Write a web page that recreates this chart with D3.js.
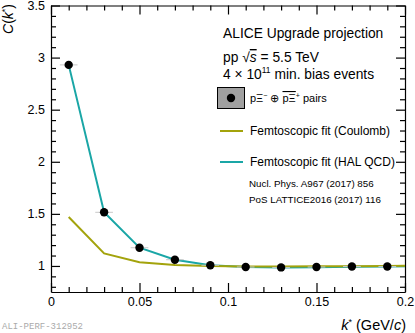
<!DOCTYPE html>
<html>
<head>
<meta charset="utf-8">
<script src="https://cdn.jsdelivr.net/npm/d3@7"></script>
<style>
  body { margin: 0; background: #fff; }
  svg { display: block; font-family: "Liberation Sans", Arial, sans-serif; }
</style>
</head>
<body>
<svg id="chart" width="415" height="333"></svg>
<script>
'use strict'

// measured points, k* bin centres
var kStar = [0.01, 0.03, 0.05, 0.07, 0.09, 0.11, 0.13, 0.15, 0.17, 0.19];
var corr = [2.93, 1.515, 1.175, 1.06, 1.007, 0.99, 0.986, 0.99, 0.995, 0.995];
var kErr = 0.005;

// fit curves
var fitK = [0.01, 0.03, 0.05, 0.07, 0.09, 0.11, 0.13, 0.15, 0.17, 0.19, 0.2];
var fitHal = [2.93, 1.515, 1.175, 1.06, 1.007, 0.99, 0.984, 0.988, 0.992, 0.995, 0.998];
var fitCoulomb = [1.47, 1.12, 1.035, 1.01, 1.0, 0.995, 0.995, 0.996, 0.998, 1.0, 1.003];

var xTicks = [0, 0.05, 0.1, 0.15, 0.2];
var xTickLabels = ["0", "0.05", "0.1", "0.15", "0.2"];
var yTicks = [1, 1.5, 2, 2.5, 3, 3.5];
var yTickLabels = ["1", "1.5", "2", "2.5", "3", "3.5"];

var colHal = "#1aa6a6";
var colCoulomb = "#a3a30c";

var svg = d3.select("#chart");
var plotL = 51, plotR = 405, plotT = 5.5, plotB = 292;

var x = d3.scaleLinear().domain([0, 0.2]).range([plotL, plotR]);
var y = d3.scaleLinear().domain([0.75, 3.5]).range([plotB, plotT]);

var xMinor = d3.range(0, 0.2001, 0.01).filter(function(v){ return Math.abs(v * 20 - Math.round(v * 20)) > 1e-6; });
var yMinor = d3.range(0.8, 3.5001, 0.1).filter(function(v){ return Math.abs(v * 2 - Math.round(v * 2)) > 1e-6; });

/* ====================== axes (ROOT style, ticks inside) ====================== */
function styleAxis(g){
	g.select(".domain").attr("stroke", "#000").attr("stroke-width", 1.2);
	g.selectAll(".tick line").attr("stroke", "#000").attr("stroke-width", 1.2);
}

var gx = svg.append("g").attr("transform", "translate(0," + plotB + ")")
	.call(d3.axisBottom(x).tickValues(xTicks).tickSize(-9).tickSizeOuter(0).tickPadding(6)
		.tickFormat(function(d, i){ return xTickLabels[i]; }));
styleAxis(gx);
gx.selectAll("text").attr("font-size", 12.5).attr("fill", "#000").attr("y", 5);

svg.append("g").attr("transform", "translate(0," + plotB + ")")
	.call(d3.axisBottom(x).tickValues(xMinor).tickSize(-5).tickFormat(""))
	.call(styleAxis).select(".domain").remove();

var gxt = svg.append("g").attr("transform", "translate(0," + plotT + ")")
	.call(d3.axisTop(x).tickValues(xTicks).tickSize(-9).tickSizeOuter(0).tickFormat(""));
styleAxis(gxt);
svg.append("g").attr("transform", "translate(0," + plotT + ")")
	.call(d3.axisTop(x).tickValues(xMinor).tickSize(-5).tickFormat(""))
	.call(styleAxis).select(".domain").remove();

var gy = svg.append("g").attr("transform", "translate(" + plotL + ",0)")
	.call(d3.axisLeft(y).tickValues(yTicks).tickSize(-9).tickSizeOuter(0).tickPadding(6)
		.tickFormat(function(d, i){ return yTickLabels[i]; }));
styleAxis(gy);
gy.selectAll("text").attr("font-size", 12.5).attr("fill", "#000").attr("x", -6);

svg.append("g").attr("transform", "translate(" + plotL + ",0)")
	.call(d3.axisLeft(y).tickValues(yMinor).tickSize(-5).tickFormat(""))
	.call(styleAxis).select(".domain").remove();

var gyr = svg.append("g").attr("transform", "translate(" + plotR + ",0)")
	.call(d3.axisRight(y).tickValues(yTicks).tickSize(-9).tickSizeOuter(0).tickFormat(""));
styleAxis(gyr);
svg.append("g").attr("transform", "translate(" + plotR + ",0)")
	.call(d3.axisRight(y).tickValues(yMinor).tickSize(-5).tickFormat(""))
	.call(styleAxis).select(".domain").remove();

/* ============================== curves + points ============================== */
var line = d3.line().x(function(d){ return x(d[0]); }).y(function(d){ return y(d[1]); });

svg.append("path").datum(d3.zip(fitK, fitHal))
	.attr("d", line).attr("fill", "none").attr("stroke", colHal).attr("stroke-width", 2);
svg.append("path").datum(d3.zip(fitK, fitCoulomb))
	.attr("d", line).attr("fill", "none").attr("stroke", colCoulomb).attr("stroke-width", 2);

var pts = d3.zip(kStar, corr);
svg.append("g").selectAll("line").data(pts).enter().append("line")
	.attr("x1", function(d){ return x(d[0] - kErr); })
	.attr("x2", function(d){ return x(d[0] + kErr); })
	.attr("y1", function(d){ return y(d[1]); })
	.attr("y2", function(d){ return y(d[1]); })
	.attr("stroke", "#c8c8c8").attr("stroke-width", 1);
svg.append("g").selectAll("circle").data(pts).enter().append("circle")
	.attr("cx", function(d){ return x(d[0]); })
	.attr("cy", function(d){ return y(d[1]); })
	.attr("r", 4.2).attr("fill", "#000");

/* ================================ axis titles ================================ */
var ylab = svg.append("text").attr("transform", "translate(13,4) rotate(-90)")
	.attr("text-anchor", "end").attr("font-size", 14);
ylab.append("tspan").attr("font-style", "italic").text("C");
ylab.append("tspan").text("(");
ylab.append("tspan").attr("font-style", "italic").text("k");
ylab.append("tspan").attr("font-size", 9).attr("dy", -5).text("*");
ylab.append("tspan").attr("dy", 5).text(")");

var xlab = svg.append("text").attr("x", plotR + 1).attr("y", 330)
	.attr("text-anchor", "end").attr("font-size", 14.5);
xlab.append("tspan").attr("font-style", "italic").text("k");
xlab.append("tspan").attr("font-size", 9).attr("dy", -5).text("*");
xlab.append("tspan").attr("dy", 5).text(" (GeV/");
xlab.append("tspan").attr("font-style", "italic").text("c");
xlab.append("tspan").text(")");

/* ================================== legend ================================== */
svg.append("text").attr("x", 223).attr("y", 38).attr("font-size", 13.8).text("ALICE Upgrade projection");

var t2 = svg.append("text").attr("x", 223).attr("y", 62).attr("font-size", 13.8);
t2.append("tspan").text("pp \u221A");
t2.append("tspan").attr("font-style", "italic").attr("text-decoration", "overline").text("s");
t2.append("tspan").text(" = 5.5 TeV");

var t3 = svg.append("text").attr("x", 223).attr("y", 79).attr("font-size", 13.8);
t3.append("tspan").text("4 \u00D7 10");
t3.append("tspan").attr("font-size", 8.5).attr("dy", -6).text("11");
t3.append("tspan").attr("dy", 6).text(" min. bias events");

svg.append("rect").attr("x", 217.5).attr("y", 87.5).attr("width", 27).attr("height", 21)
	.attr("fill", "#a0a0a0").attr("stroke", "#000").attr("stroke-width", 1);
svg.append("circle").attr("cx", 231).attr("cy", 98).attr("r", 4.2).attr("fill", "#000");

var t4 = svg.append("text").attr("x", 250).attr("y", 102).attr("font-size", 11);
t4.append("tspan").text("p\u039E");
t4.append("tspan").attr("font-size", 7).attr("dy", -4).text("\u2212");
t4.append("tspan").attr("dy", 4).text(" \u2295 ");
t4.append("tspan").attr("text-decoration", "overline").text("p\u039E");
t4.append("tspan").attr("font-size", 7).attr("dy", -4).text("+");
t4.append("tspan").attr("dy", 4).text(" pairs");

var legLines = [["Femtoscopic fit (Coulomb)", colCoulomb, 131], ["Femtoscopic fit (HAL QCD)", colHal, 162]];
legLines.forEach(function(l){
	svg.append("line").attr("x1", 220).attr("x2", 243).attr("y1", l[2]).attr("y2", l[2])
		.attr("stroke", l[1]).attr("stroke-width", 2);
	svg.append("text").attr("x", 250).attr("y", l[2] + 4).attr("font-size", 12).text(l[0]);
});

svg.append("text").attr("x", 249).attr("y", 187).attr("font-size", 9.8).text("Nucl. Phys. A967 (2017) 856");
svg.append("text").attr("x", 249).attr("y", 203).attr("font-size", 9.8).text("PoS LATTICE2016 (2017) 116");

svg.append("text").attr("x", 2).attr("y", 329).attr("font-size", 9)
	.attr("font-family", "'Liberation Mono', monospace").attr("fill", "#aaa").text("ALI-PERF-312952");
</script>
</body>
</html>
